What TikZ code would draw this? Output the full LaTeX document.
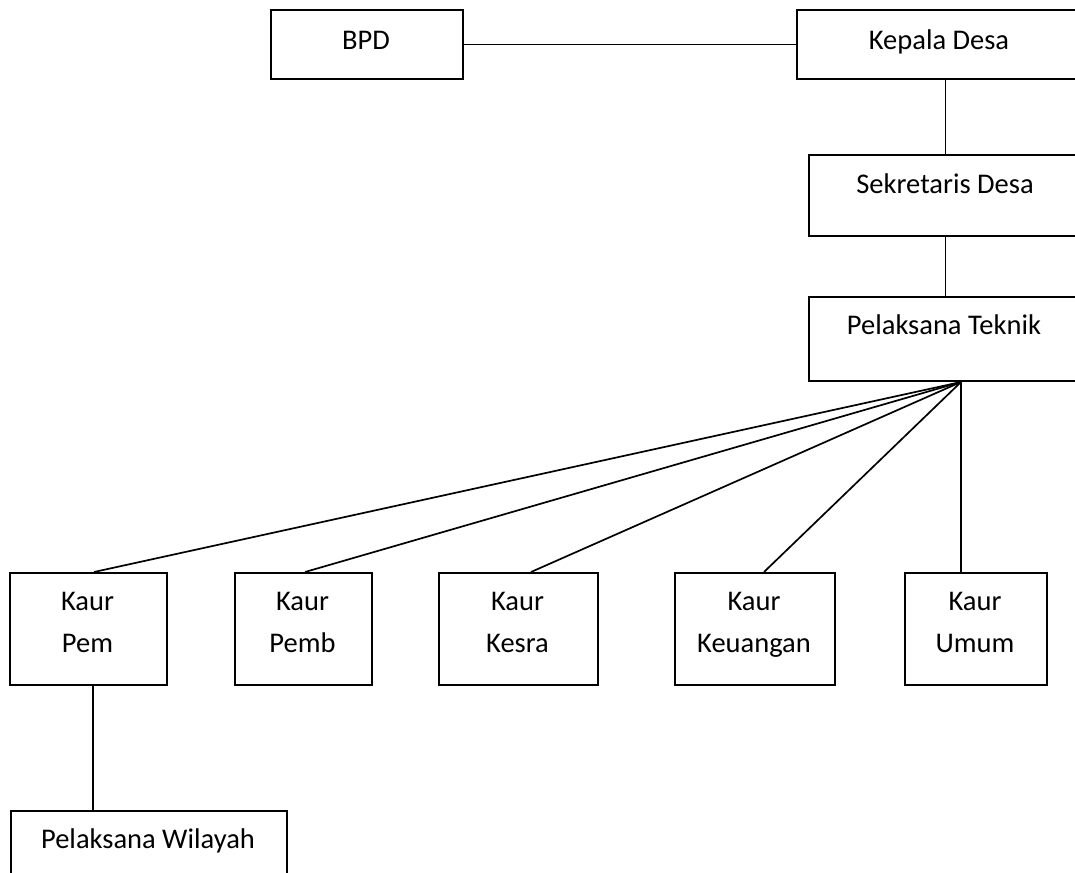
\documentclass[tikz,border=0pt]{standalone}
\usepackage{fontspec}
\setmainfont{Carlito}
\begin{document}
\begin{tikzpicture}[x=1pt,y=-1pt,
  box/.style={draw, line width=2pt, inner sep=0pt, rectangle, anchor=north west},
  lbl/.style={inner sep=0pt, anchor=base, align=center, font=\fontsize{28.5}{42}\selectfont},
  conn/.style={line width=1.7pt}]
\useasboundingbox (0,0) rectangle (1075,872);
\clip (0,0) rectangle (1075,872);
\fill[white] (0,0) rectangle (1075,872);
% boxes
\node[box, minimum width=192pt, minimum height=69pt] (bpd) at (270,9) {};
\node[box, minimum width=285pt, minimum height=69pt] (kd) at (796,9) {};
\node[box, minimum width=273pt, minimum height=81pt] (sd) at (808,154) {};
\node[box, minimum width=273pt, minimum height=84pt] (pt) at (808,296) {};
\node[box, minimum width=157pt, minimum height=112pt] (kpem) at (9,572) {};
\node[box, minimum width=137pt, minimum height=112pt] (kpemb) at (234,572) {};
\node[box, minimum width=159pt, minimum height=112pt] (kkesra) at (438,572) {};
\node[box, minimum width=160pt, minimum height=112pt] (kkeu) at (674,572) {};
\node[box, minimum width=142pt, minimum height=112pt] (kumum) at (904,572) {};
\node[box, minimum width=276pt, minimum height=80pt] (pw) at (10,810) {};
% labels
\node[lbl] (bpdt) at (366,49.5) {BPD};
\node[lbl] (kdt) at (939,49.5) {Kepala Desa};
\node[lbl] (sdt) at (945,193) {Sekretaris Desa};
\node[lbl] (ptt) at (944,334) {Pelaksana Teknik};
\node[lbl] (kpemt) at (87.5,652) {Kaur\\Pem};
\node[lbl] (kpembt) at (302.5,652) {Kaur\\Pemb};
\node[lbl] (kkesrat) at (517.5,652) {Kaur\\Kesra};
\node[lbl] (kkeut) at (754,652) {Kaur\\Keuangan};
\node[lbl] (kumumt) at (975,652) {Kaur\\Umum};
\node[lbl] (pwt) at (148,848) {Pelaksana Wilayah};
% connectors
\draw[conn] (bpd.east) -- (bpd.east -| kd.west);
\draw[conn] (sd.north |- kd.south) -- (sd.north);
\draw[conn] (sd.south) -- (pt.north);
\coordinate (fan) at ([xshift=15.5pt]pt.south);
\draw[conn] (fan) -- ([xshift=5.5pt]kpem.north);
\draw[conn] (fan) -- ([xshift=1.5pt]kpemb.north);
\draw[conn] (fan) -- ([xshift=12.5pt]kkesra.north);
\draw[conn] (fan) -- ([xshift=9pt]kkeu.north);
\draw[conn] (fan) -- (fan |- kumum.north);
\draw[conn] ([xshift=4.5pt]kpem.south) -- ([xshift=4.5pt]kpem.south |- pw.north);
\end{tikzpicture}
\end{document}
